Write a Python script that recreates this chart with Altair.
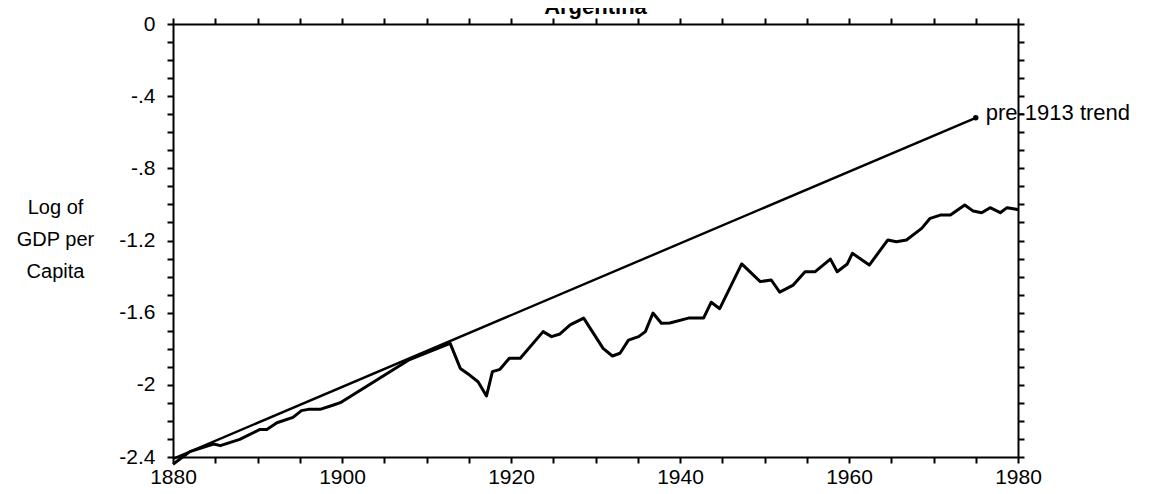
import altair as alt
import pandas as pd

# ---- data ----
actual_years = [1880.0, 1882.0, 1884.8, 1885.6, 1887.9, 1890.3, 1891.1, 1892.3, 1894.2,
                1895.2, 1896.0, 1897.4, 1899.0, 1899.8, 1908.0, 1912.8, 1914.0, 1915.1,
                1916.1, 1917.1, 1917.8, 1918.7, 1919.8, 1921.1, 1923.8, 1924.8, 1925.8,
                1927.0, 1928.6, 1930.9, 1932.0, 1932.9, 1933.9, 1935.1, 1935.9, 1936.8,
                1937.8, 1938.8, 1941.0, 1942.8, 1943.7, 1944.7, 1947.3, 1949.5, 1950.8,
                1951.8, 1953.4, 1954.8, 1956.0, 1957.8, 1958.6, 1959.8, 1960.4, 1962.4,
                1964.6, 1965.6, 1966.8, 1968.6, 1969.6, 1970.8, 1972.0, 1973.7, 1974.7,
                1975.7, 1976.7, 1977.9, 1978.7, 1979.8, 1980.0]
actual_values = [-2.44, -2.37, -2.328, -2.337, -2.302, -2.247, -2.247, -2.210, -2.180,
                 -2.143, -2.136, -2.136, -2.112, -2.099, -1.860, -1.770, -1.909, -1.946,
                 -1.983, -2.062, -1.927, -1.914, -1.853, -1.853, -1.705, -1.733, -1.718,
                 -1.668, -1.630, -1.798, -1.840, -1.825, -1.752, -1.733, -1.705, -1.602,
                 -1.659, -1.657, -1.630, -1.629, -1.542, -1.578, -1.330, -1.428, -1.419,
                 -1.486, -1.447, -1.373, -1.373, -1.303, -1.373, -1.330, -1.271, -1.336,
                 -1.197, -1.207, -1.197, -1.133, -1.077, -1.059, -1.059, -1.003, -1.037,
                 -1.046, -1.018, -1.046, -1.018, -1.027, -1.030]

trend_years = [1880, 1975]
trend_values = [-2.41, -0.52]
trend_label = "pre-1913 trend"
chart_title = "Argentina"
y_title_lines = ["Log of", "GDP per", "Capita"]

x_tick_values = [1880, 1885, 1890, 1895, 1900, 1905, 1910, 1915, 1920, 1925, 1930,
                 1935, 1940, 1945, 1950, 1955, 1960, 1965, 1970, 1975, 1980]
x_label_values = [1880, 1900, 1920, 1940, 1960, 1980]
x_label_texts = ["1880", "1900", "1920", "1940", "1960", "1980"]
y_tick_values = [0.0, -0.1, -0.2, -0.3, -0.4, -0.5, -0.6, -0.7, -0.8, -0.9, -1.0, -1.1,
                 -1.2, -1.3, -1.4, -1.5, -1.6, -1.7, -1.8, -1.9, -2.0, -2.1, -2.2, -2.3, -2.4]
y_label_values = [0.0, -0.4, -0.8, -1.2, -1.6, -2.0, -2.4]
y_label_texts = ["0", "-.4", "-.8", "-1.2", "-1.6", "-2", "-2.4"]

FONT = "Liberation Sans"


def label_expr(values, texts):
    parts = [f"abs(datum.value - ({v})) < 0.001 ? '{t}'" for v, t in zip(values, texts)]
    return " : ".join(parts) + " : ''"


df_actual = pd.DataFrame({"year": actual_years, "value": actual_values})
df_trend = pd.DataFrame({"year": trend_years, "value": trend_values})
df_end = pd.DataFrame({"year": [trend_years[-1]], "value": [trend_values[-1]],
                       "label": [trend_label]})
df_title = pd.DataFrame({"t": [chart_title]})

xscale = alt.Scale(domain=[1880, 1980], nice=False, zero=False)
yscale = alt.Scale(domain=[-2.4, 0], nice=False, zero=False)

common = dict(domainColor="black", domainWidth=2, tickColor="black", tickWidth=2,
              tickSize=6, grid=False, labelFont=FONT, labelFontSize=21,
              labelColor="black", labelOverlap=False, labelFlush=False)

actual = alt.Chart(df_actual).mark_line(
    color="black", strokeWidth=3, strokeJoin="round", clip=False
).encode(
    x=alt.X("year:Q", scale=xscale,
            axis=alt.Axis(orient="bottom", values=x_tick_values,
                          labelExpr=label_expr(x_label_values, x_label_texts),
                          labelPadding=3, title=None, **common)),
    y=alt.Y("value:Q", scale=yscale,
            axis=alt.Axis(orient="left", values=y_tick_values,
                          labelExpr=label_expr(y_label_values, y_label_texts),
                          labelPadding=12,
                          title=y_title_lines, titleAngle=0, titleAlign="center",
                          titleBaseline="alphabetic", titleX=-118, titleY=189,
                          titleFont=FONT, titleFontSize=20, titleFontWeight="normal",
                          titleLineHeight=32, titleColor="black", **common)),
)

trend = alt.Chart(df_trend).mark_line(color="black", strokeWidth=2.4).encode(
    x=alt.X("year:Q", scale=xscale,
            axis=alt.Axis(orient="top", values=x_tick_values, labels=False,
                          title=None, **common)),
    y=alt.Y("value:Q", scale=yscale,
            axis=alt.Axis(orient="right", values=y_tick_values, labels=False,
                          title=None, **common)),
)

end_pt = alt.Chart(df_end).mark_circle(color="black", size=30, opacity=1).encode(
    x=alt.X("year:Q", scale=xscale, axis=None),
    y=alt.Y("value:Q", scale=yscale, axis=None),
)

end_label = alt.Chart(df_end).mark_text(
    align="left", baseline="middle", dx=10, dy=-5, font=FONT, fontSize=22, color="black"
).encode(
    x=alt.X("year:Q", scale=xscale, axis=None),
    y=alt.Y("value:Q", scale=yscale, axis=None),
    text="label:N",
)

title = alt.Chart(df_title).mark_text(
    align="center", baseline="alphabetic", font=FONT, fontSize=22,
    fontWeight="bold", color="black"
).encode(x=alt.value(422.5), y=alt.value(-10), text="t:N")

chart = alt.layer(actual, trend, end_pt, end_label, title).resolve_axis(
    x="independent", y="independent"
).properties(
    width=845, height=433,
    autosize=alt.AutoSizeParams(type="none"),
    padding={"left": 165, "top": 16, "right": 123, "bottom": 29},
).configure_view(stroke=None)

chart.save("out.html", embed_options={"renderer": "svg", "actions": False})
